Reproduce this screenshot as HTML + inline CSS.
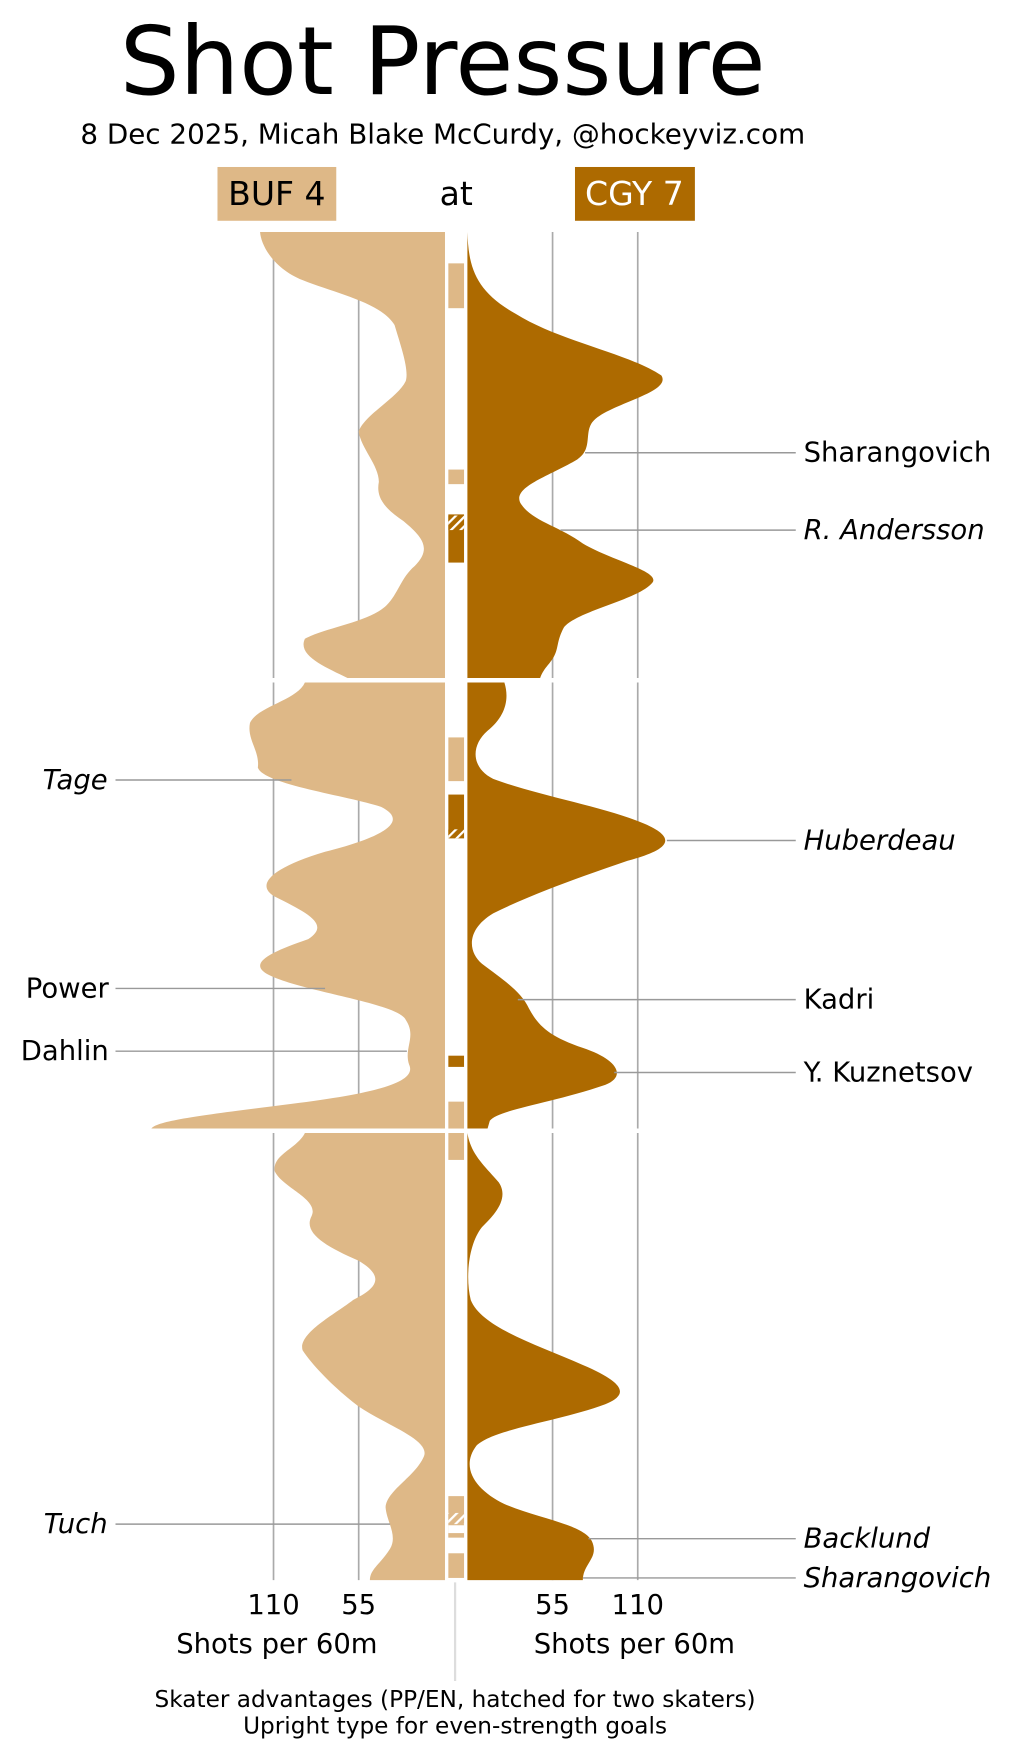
<!DOCTYPE html>
<html><head><meta charset="utf-8"><style>html,body{margin:0;padding:0;background:#fff}svg{display:block}text{font-family:"DejaVu Sans","Liberation Sans",sans-serif}</style></head>
<body>
<svg width="1011" height="1755" viewBox="0 0 902 1566" xmlns="http://www.w3.org/2000/svg">
<defs><pattern id="h" width="6" height="6" patternUnits="userSpaceOnUse" patternTransform="rotate(45)"><rect width="6" height="6" fill="#ad6a00"/><rect width="2" height="6" fill="#fff"/></pattern>
<pattern id="ht" width="6" height="6" patternUnits="userSpaceOnUse" patternTransform="rotate(45)"><rect width="6" height="6" fill="#deb887"/><rect width="2" height="6" fill="#fff"/></pattern></defs>
<text x="395" y="84" font-size="84" text-anchor="middle">Shot Pressure</text>
<text x="395" y="128" font-size="24.8" text-anchor="middle">8 Dec 2025, Micah Blake McCurdy, @hockeyviz.com</text>
<rect x="194" y="149" width="106" height="48" fill="#deb887"/><text x="247" y="183" font-size="29.5" text-anchor="middle">BUF 4</text>
<text x="407" y="183" font-size="29.5" text-anchor="middle">at</text>
<rect x="513" y="149" width="107" height="48" fill="#ad6a00"/><text x="566" y="183" font-size="29.5" text-anchor="middle" fill="#fff">CGY 7</text>
<g stroke="#aaa" stroke-width="1.5">
<line x1="244" y1="207" x2="244" y2="605"/><line x1="320" y1="207" x2="320" y2="605"/><line x1="493" y1="207" x2="493" y2="605"/><line x1="569" y1="207" x2="569" y2="605"/>
<line x1="244" y1="609" x2="244" y2="1007"/><line x1="320" y1="609" x2="320" y2="1007"/><line x1="493" y1="609" x2="493" y2="1007"/><line x1="569" y1="609" x2="569" y2="1007"/>
<line x1="244" y1="1011" x2="244" y2="1410"/><line x1="320" y1="1011" x2="320" y2="1410"/><line x1="493" y1="1011" x2="493" y2="1410"/><line x1="569" y1="1011" x2="569" y2="1410"/>
</g>
<g fill="#deb887">
<path d="M397,207 L232,207 C233,220 245,240 270,250 C300,262 340,270 352,290 C358,310 365,330 362,340 C355,355 325,370 320,385 C322,400 338,415 338,430 C335,445 345,455 360,465 C378,480 385,490 370,505 C358,515 355,530 345,540 C330,555 290,560 272,570 C265,585 290,595 310,605 L397,605Z"/>
<path d="M397,609 L272,609 C265,625 230,630 223,645 C220,660 232,670 230,685 C235,700 310,710 340,720 C370,735 330,750 290,760 C240,775 228,790 245,800 C275,815 295,825 275,838 C240,850 220,860 240,870 C270,885 355,895 362,910 C372,925 360,935 365,950 C372,965 340,975 260,985 C180,995 140,1000 135,1007 L397,1007Z"/>
<path d="M397,1011 L272,1011 C265,1025 243,1030 245,1045 C252,1060 285,1070 278,1085 C270,1100 290,1112 320,1125 C345,1140 335,1150 315,1160 C300,1172 265,1190 270,1205 C280,1220 300,1240 320,1255 C345,1272 385,1285 378,1300 C370,1318 345,1330 344,1345 C345,1358 355,1370 348,1382 C340,1395 330,1400 330,1410 L397,1410Z"/>
</g>
<g fill="#ad6a00">
<path d="M417,207 C418,240 425,260 460,280 C500,305 560,315 590,335 C600,350 545,360 530,375 C520,385 530,400 515,410 C490,425 455,435 465,450 C475,465 500,470 520,485 C545,500 590,510 582,520 C570,535 515,545 503,560 C495,575 500,580 490,592 C483,600 482,605 482,605 L417,605Z"/>
<path d="M417,609 L450,609 C455,625 450,640 435,652 C420,665 420,685 440,695 C480,710 540,720 575,735 C610,750 590,760 560,768 C510,785 470,800 440,815 C415,830 418,850 430,860 C450,875 465,885 472,900 C480,915 490,925 520,935 C550,945 560,960 540,968 C490,985 445,990 437,1000 L435,1007 L417,1007Z"/>
<path d="M417,1011 C420,1030 432,1040 445,1055 C455,1070 440,1085 430,1095 C418,1110 415,1140 420,1160 C430,1185 480,1200 520,1218 C560,1235 560,1245 540,1253 C500,1268 440,1275 425,1290 C410,1310 425,1330 450,1342 C480,1355 520,1360 528,1375 C535,1390 520,1395 520,1410 L417,1410Z"/>
</g>
<g fill="#deb887"><rect x="400" y="235" width="14" height="40"/><rect x="400" y="419" width="14" height="13"/><rect x="400" y="658" width="14" height="39"/><rect x="400" y="983" width="14" height="24"/><rect x="400" y="1011" width="14" height="24"/><rect x="400" y="1335" width="14" height="37"/><rect x="400" y="1386" width="14" height="22"/></g>
<rect x="400" y="1350" width="14" height="10" fill="url(#ht)"/>
<rect x="400" y="1361" width="14" height="11" fill="#fff"/><rect x="400" y="1368" width="14" height="4" fill="#deb887"/>
<g fill="#ad6a00"><rect x="400" y="459" width="14" height="43"/><rect x="400" y="709" width="14" height="39"/><rect x="400" y="942" width="14" height="10"/></g>
<rect x="400" y="460" width="14" height="13" fill="url(#h)"/><rect x="400" y="740" width="14" height="8" fill="url(#h)"/>
<line x1="406" y1="1412" x2="406" y2="1500" stroke="#ddd" stroke-width="2"/>
<g stroke="#999" stroke-width="1.3">
<line x1="522" y1="404" x2="710" y2="404"/><line x1="500" y1="473" x2="710" y2="473"/><line x1="595" y1="750" x2="710" y2="750"/><line x1="462" y1="892" x2="710" y2="892"/><line x1="548" y1="957" x2="710" y2="957"/><line x1="525" y1="1373" x2="710" y2="1373"/><line x1="520" y1="1408" x2="710" y2="1408"/>
<line x1="103" y1="696" x2="260" y2="696"/><line x1="103" y1="882" x2="290" y2="882"/><line x1="103" y1="938" x2="363" y2="938"/><line x1="103" y1="1360" x2="348" y2="1360"/>
</g>
<g font-size="24.5">
<text x="717" y="412">Sharangovich</text><text x="717" y="481" font-style="italic">R. Andersson</text><text x="717" y="758" font-style="italic">Huberdeau</text><text x="717" y="900">Kadri</text><text x="717" y="965">Y. Kuznetsov</text><text x="717" y="1381" font-style="italic">Backlund</text><text x="717" y="1416" font-style="italic">Sharangovich</text>
<g text-anchor="end"><text x="96" y="704" font-style="italic">Tage</text><text x="97" y="890">Power</text><text x="97" y="946">Dahlin</text><text x="96" y="1368" font-style="italic">Tuch</text></g>
<g text-anchor="middle"><text x="244" y="1440">110</text><text x="320" y="1440">55</text><text x="493" y="1440">55</text><text x="569" y="1440">110</text>
<text x="247" y="1475">Shots per 60m</text><text x="566" y="1475">Shots per 60m</text></g>
</g>
<g font-size="20.7" text-anchor="middle"><text x="406" y="1523">Skater advantages (PP/EN, hatched for two skaters)</text><text x="406" y="1547">Upright type for even-strength goals</text></g>
</svg>
</body></html>
